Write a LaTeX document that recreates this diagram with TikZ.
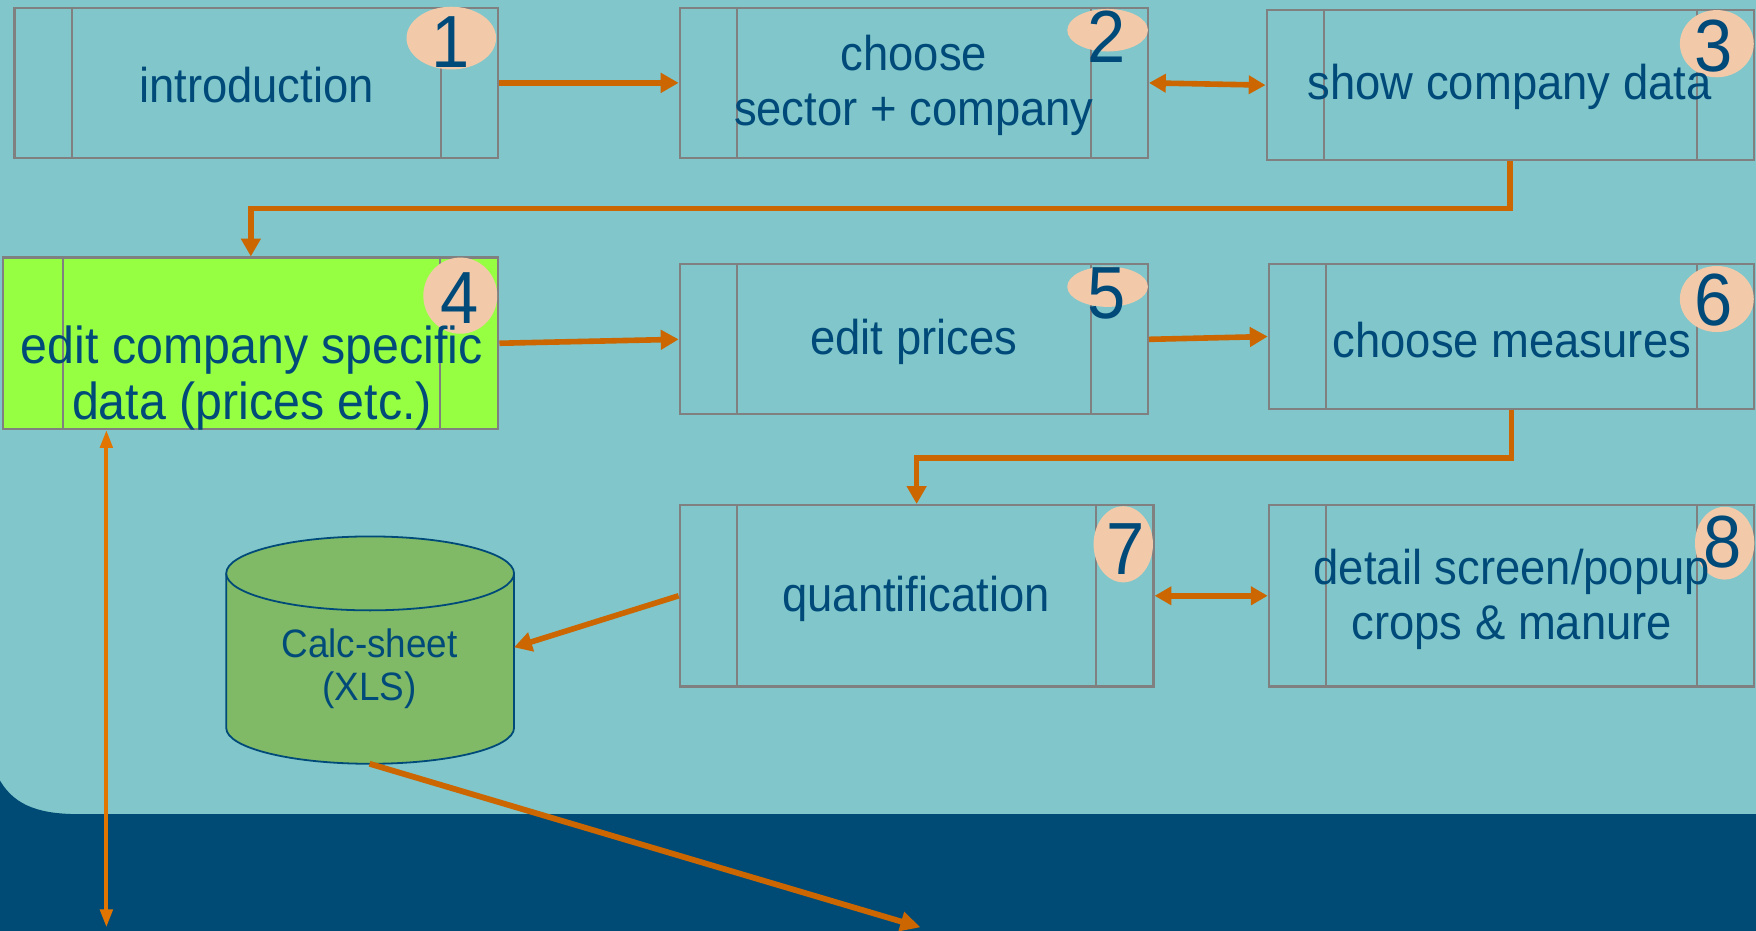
\documentclass[tikz,border=0pt]{standalone}
\usepackage{fontspec}
\setmainfont{Liberation Sans}[FakeStretch=0.93]
\usetikzlibrary{arrows.meta,shapes.geometric,calc}
\definecolor{bgteal}{HTML}{80C6CA}
\definecolor{band}{HTML}{004B76}
\definecolor{arrorange}{HTML}{CC6600}
\definecolor{arrbright}{HTML}{E27400}
\definecolor{boxgray}{HTML}{808080}
\definecolor{txtblue}{HTML}{004A7A}
\definecolor{peach}{HTML}{F2CAAA}
\definecolor{limegreen}{HTML}{97FF42}
\definecolor{cylgreen}{HTML}{80BA66}
\tikzset{
  procbox/.style={draw=boxgray, line width=1pt, inner sep=0pt},
  divider/.style={draw=boxgray, line width=0.8pt},
  boxtext/.style={text=txtblue, font=\fontsize{21.8}{24.5}\selectfont, align=center, inner sep=0pt},
  badge/.style={ellipse, fill=peach, draw=none, inner sep=0pt},
  numtext/.style={text=txtblue, font=\fontsize{33}{33}\selectfont, inner sep=0pt},
  arr/.style={draw=arrorange, line width=2.5pt, -{Triangle[length=8pt,width=8.5pt]}},
  arrboth/.style={draw=arrorange, line width=2.5pt, {Triangle[length=7.5pt,width=8pt]}-{Triangle[length=7.5pt,width=8pt]}},
  arrvert/.style={draw=arrbright, line width=1.8pt, {Triangle[length=8pt,width=5.5pt]}-{Triangle[length=8pt,width=5.5pt]}},
  arrdiag/.style={draw=arrorange, line width=2.6pt, -{Triangle[length=9pt,width=8.5pt]}},
}
\begin{document}
\begin{tikzpicture}[x=0.5pt,y=-0.5pt]
\useasboundingbox (0,0) rectangle (1568,831);
% background
\fill[bgteal] (0,0) rectangle (1568,831);
\fill[band] (0,727) rectangle (1568,831);
\fill[band] (0,727) -- (0,697) .. controls (14,721) and (38,727) .. (72,727) -- cycle;

% boxes
\node[procbox, minimum width=216pt, minimum height=67pt] (b1) at (229,74) {};
\node[procbox, minimum width=209pt, minimum height=67pt] (b2) at (816,74) {};
\node[procbox, minimum width=217.5pt, minimum height=67pt] (b3) at (1348.5,76) {};
\node[procbox, fill=limegreen, minimum width=221pt, minimum height=76.5pt] (b4) at (224,306.5) {};
\node[procbox, minimum width=209pt, minimum height=67pt] (b5) at (816,303) {};
\node[procbox, minimum width=216.5pt, minimum height=64.5pt] (b6) at (1349.5,300.5) {};
\node[procbox, minimum width=211.5pt, minimum height=81pt] (b7) at (818.5,532) {};
\node[procbox, minimum width=216.5pt, minimum height=81pt] (b8) at (1349.5,532) {};
\foreach \b in {b1,b2,b3,b5,b6,b7,b8}{
  \draw[divider] ([xshift=26pt]\b.north west) -- ([xshift=26pt]\b.south west);
  \draw[divider] ([xshift=-26pt]\b.north east) -- ([xshift=-26pt]\b.south east);
}
\draw[divider] ([xshift=27pt]b4.north west) -- ([xshift=27pt]b4.south west);
\draw[divider] ([xshift=-26.5pt]b4.north east) -- ([xshift=-26.5pt]b4.south east);

% badges
\node[badge, minimum width=40pt, minimum height=28pt] (e1) at (403,34) {};
\node[badge, minimum width=36pt, minimum height=19pt] (e2) at (989,27) {};
\node[badge, minimum width=33pt, minimum height=30pt] (e3) at (1533,39) {};
\node[badge, minimum width=33pt, minimum height=34pt] (e4) at (411,264) {};
\node[badge, minimum width=36pt, minimum height=18pt] (e5) at (989,256) {};
\node[badge, minimum width=33pt, minimum height=29.5pt] (e6) at (1533,267) {};
\node[badge, minimum width=26.5pt, minimum height=34pt] (e7) at (1003,486) {};
\node[badge, minimum width=26.5pt, minimum height=32.5pt] (e8) at (1540,485) {};

% cylinder
\fill[cylgreen] (202,512) rectangle (459,650);
\fill[cylgreen] (330.5,650) ellipse [x radius=64.25pt, y radius=16pt];
\draw[txtblue, line width=0.8pt] (202,512) -- (202,650) arc[start angle=180, end angle=360, x radius=64.25pt, y radius=16pt] -- (459,512);
\draw[txtblue, line width=0.8pt, fill=cylgreen] (330.5,512) ellipse [x radius=64.25pt, y radius=16.5pt];
\coordinate (cylR) at (459,578);
\coordinate (cylB) at (330,682);
\node[text=txtblue, font=\fontsize{17.7}{19}\selectfont, align=center, inner sep=0pt] (tc) at (330,597) {Calc-sheet\\(XLS)};

% texts
\node[boxtext] (t1) at (229,76) {introduction};
\node[boxtext] (t2) at (816,76) {choose\\sector + company};
\node[boxtext] (t3) at (1348,78) {show company data};
\node[boxtext, font=\fontsize{23.2}{25}\selectfont] (t4) at (225,338) {edit company specific\\data (prices etc.)};
\node[boxtext] (t5) at (816,305) {edit prices};
\node[boxtext] (t6) at (1350,304) {choose measures};
\node[boxtext] (t7) at (818,535) {quantification};
\node[boxtext] (t8) at (1350,535) {detail screen/popup\\crops \& manure};

% numbers
\node[numtext] (n1) at (402,38) {1};
\node[numtext] (n2) at (988,33) {2};
\node[numtext] (n3) at (1530,41) {3};
\node[numtext] (n4) at (410,266) {4};
\node[numtext] (n5) at (988,262) {5};
\node[numtext] (n6) at (1530,268) {6};
\node[numtext] (n7) at (1005,490) {7};
\node[numtext] (n8) at (1538,484) {8};

% connectors
\coordinate (k1) at (0,186);
\coordinate (k2) at (0,409);
\coordinate (v1) at (95,828);
\coordinate (endD) at (822,828);
\draw[arr] (b1.east) -- (b2.west);
\draw[arrboth] (b2.east) -- (b3.west);
\draw[arr] (b3.south) -- (b3.south |- k1) -| (b4.north);
\draw[arr] (b4.east) -- (b5.west);
\draw[arr] (b5.east) -- (b6.west);
\draw[arr] (b6.south) -- (b6.south |- k2) -| (b7.north);
\draw[arrboth] (b7.east) -- (b8.west);
\draw[arr] (b7.west) -- (cylR);
\draw[arrvert] (b4.south -| v1) -- (v1);
\draw[arrdiag] (cylB) -- (endD);
\end{tikzpicture}
\end{document}
